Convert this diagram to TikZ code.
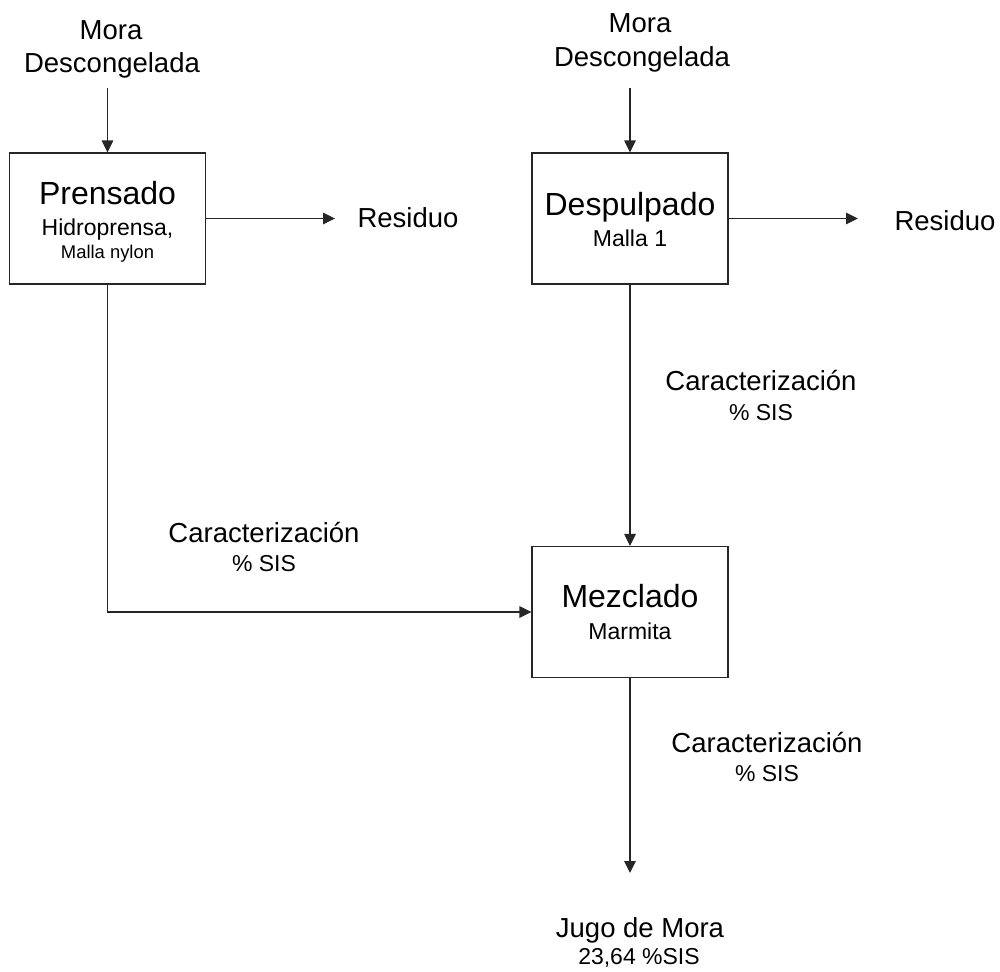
\documentclass[tikz,border=0pt]{standalone}
\usepackage{fontspec}
\setmainfont{Liberation Sans}
\usetikzlibrary{arrows.meta}
\begin{document}
\begin{tikzpicture}[x=1pt,y=-1pt,
  box/.style={draw=black!85, line width=1.1pt, minimum width=196pt, minimum height=131pt, inner sep=0pt},
  conn/.style={draw=black!85, line width=1.1pt},
  arr/.style={conn, -{Triangle[length=12pt,width=11.5pt]}},
  txt/.style={anchor=base, inner sep=0pt, font=\fontsize{27.5}{33}\selectfont},
  ttl/.style={anchor=base, inner sep=0pt, font=\fontsize{32}{38}\selectfont},
  sub/.style={anchor=base, inner sep=0pt, font=\fontsize{23}{28}\selectfont},
  tiny/.style={anchor=base, inner sep=0pt, font=\fontsize{18.4}{22}\selectfont}]
\useasboundingbox (0,0) rectangle (1000,971);

% boxes
\node[box] (boxP) at (107.5,218.5) {};
\node[box] (boxD) at (630,218.5) {};
\node[box] (boxM) at (630,612) {};

% box texts
\node[ttl] (tP) at (107.5,204) {Prensado};
\node[sub] (tP2) at (107.5,235) {Hidroprensa,};
\node[tiny] (tP3) at (107.5,258) {Malla nylon};
\node[ttl] (tD) at (630,215) {Despulpado};
\node[sub] (tD2) at (630,246) {Malla 1};
\node[ttl] (tM) at (630,607) {Mezclado};
\node[sub] (tM2) at (630,639) {Marmita};

% inputs
\node[txt] (moraL1) at (111,40) {Mora};
\node[txt] (moraL2) at (112,73) {Descongelada};
\node[txt] (moraR1) at (640,33) {Mora};
\node[txt] (moraR2) at (642,67) {Descongelada};

% outputs
\node[txt] (resL) at (408,227) {Residuo};
\node[txt] (resR) at (945,230) {Residuo};
\node[txt] (jugo) at (640,937) {Jugo de Mora};
\node[sub] (jugo2) at (639,964) {23,64 \%SIS};

% labels
\node[txt] (carL) at (264,542) {Caracterización};
\node[sub] (sisL) at (264,571) {\% SIS};
\node[txt] (carR) at (761,390) {Caracterización};
\node[sub] (sisR) at (761,420) {\% SIS};
\node[txt] (carB) at (767,752) {Caracterización};
\node[sub] (sisB) at (767,781) {\% SIS};

% connector ends
\coordinate (inL) at (107.5,88);
\coordinate (inR) at (630,88);
\coordinate (outL) at (335,218.5);
\coordinate (outR) at (858,218.5);
\coordinate (outB) at (630,873);

% connectors
\draw[arr] (inL) -- (boxP.north);
\draw[arr] (inR) -- (boxD.north);
\draw[arr] (boxP.east) -- (outL);
\draw[arr] (boxD.east) -- (outR);
\draw[arr] (boxD.south) -- (boxM.north);
\draw[arr] (boxP.south) |- (boxM.west);
\draw[arr] (boxM.south) -- (outB);
\end{tikzpicture}
\end{document}
